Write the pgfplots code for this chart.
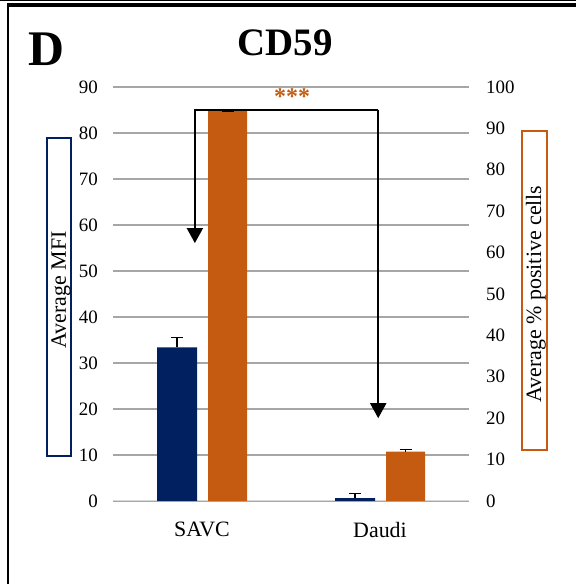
\documentclass[border=0pt]{standalone}
\usepackage{pgfplots}
\pgfplotsset{compat=1.18}
\usepackage{fontspec}
\setmainfont{Liberation Serif}
\usetikzlibrary{arrows.meta}

\definecolor{navy}{HTML}{002060}
\definecolor{rust}{HTML}{C55A11}
\definecolor{gridgray}{HTML}{A6A6A6}
\definecolor{basegray}{HTML}{D9D9D9}

\pgfplotsset{
  panel/.style={
    scale only axis, width=356bp, height=414bp,
    at={(113bp,83bp)}, anchor=south west,
    xmin=-0.5, xmax=1.5,
    ybar,
    major tick length=0pt,
    /pgf/number format/assume math mode=true,
    ticklabel style={font=\fontsize{19}{22}\selectfont, inner sep=0pt},
  },
  errstyle/.style={
    error bars/.cd, y dir=plus, y explicit,
    error bar style={black, line width=1.3bp},
    error mark options={rotate=90, mark size=6bp, line width=1.3bp, black},
  },
}

\begin{document}
\begin{tikzpicture}[x=1bp,y=1bp]
\useasboundingbox (0,0) rectangle (576,584);

% panel frame
\draw[line width=1.2bp] (0,583.4) -- (576,583.4);
\draw[line width=3.6bp] (7.4,579.2) -- (576,579.2);
\draw[line width=1.8bp] (8.2,581) -- (8.2,0);

% panel letter and title
\node[font=\bfseries\fontsize{50}{54}\selectfont, inner sep=0pt] at (46,535) {D};
\node[font=\bfseries\fontsize{39}{43}\selectfont, inner sep=0pt] at (285,541) {CD59};

% left axis: mean fluorescence intensity
\begin{axis}[panel,
  ymin=0, ymax=90, ytick={0,10,...,90},
  axis line style={draw=none},
  ymajorgrids, grid style={gridgray, line width=1.5bp},
  xtick={0,1}, xticklabels={SAVC,Daudi},
  xticklabel style={font=\fontsize{22}{24}\selectfont, anchor=north, yshift=-21bp},
  yticklabel style={anchor=east, xshift=-15bp},
]
\draw[basegray, line width=2bp] (axis cs:-0.5,0) -- (axis cs:1.5,0);
\addplot[bar width=40bp, bar shift=-25bp, fill=navy, draw=none, errstyle]
  coordinates {(0,33.4) +- (0,2.2) (1,0.6) +- (0,1.1)};
\end{axis}

% right axis: percentage of positive cells
\begin{axis}[panel,
  ymin=0, ymax=100, ytick={0,10,...,100},
  axis y line*=right, axis line style={draw=none},
  hide x axis,
  yticklabel style={anchor=west, xshift=17bp},
]
\addplot[bar width=39bp, bar shift=25.5bp, fill=rust, draw=none, errstyle]
  coordinates {(0,94.2) +- (0,0) (1,11.9) +- (0,0.5)};
% significance bracket
\draw[black, line width=2bp, -{Triangle[width=16bp,length=15bp]}]
  (axis cs:0.99,94.4) -- (axis cs:0.99,20.0);
\draw[black, line width=2bp, -{Triangle[width=16bp,length=15bp]}]
  (axis cs:0.99,94.4) -- (axis cs:-0.04,94.4) -- (axis cs:-0.04,62.3);
\node[rust, font=\bfseries\fontsize{24}{26}\selectfont, inner sep=0pt] at (axis cs:0.506,97.6) {***};
\end{axis}

% axis titles in outlined boxes
\draw[navy, line width=2.8bp] (47,128) rectangle (71,446);
\node[rotate=90, font=\fontsize{22}{24}\selectfont, inner sep=0pt] at (61,294) {Average MFI};
\draw[rust, line width=2.8bp] (522,134) rectangle (547,453);
\node[rotate=90, font=\fontsize{22}{24}\selectfont, inner sep=0pt] at (536,290) {Average \% positive cells};
\end{tikzpicture}
\end{document}
